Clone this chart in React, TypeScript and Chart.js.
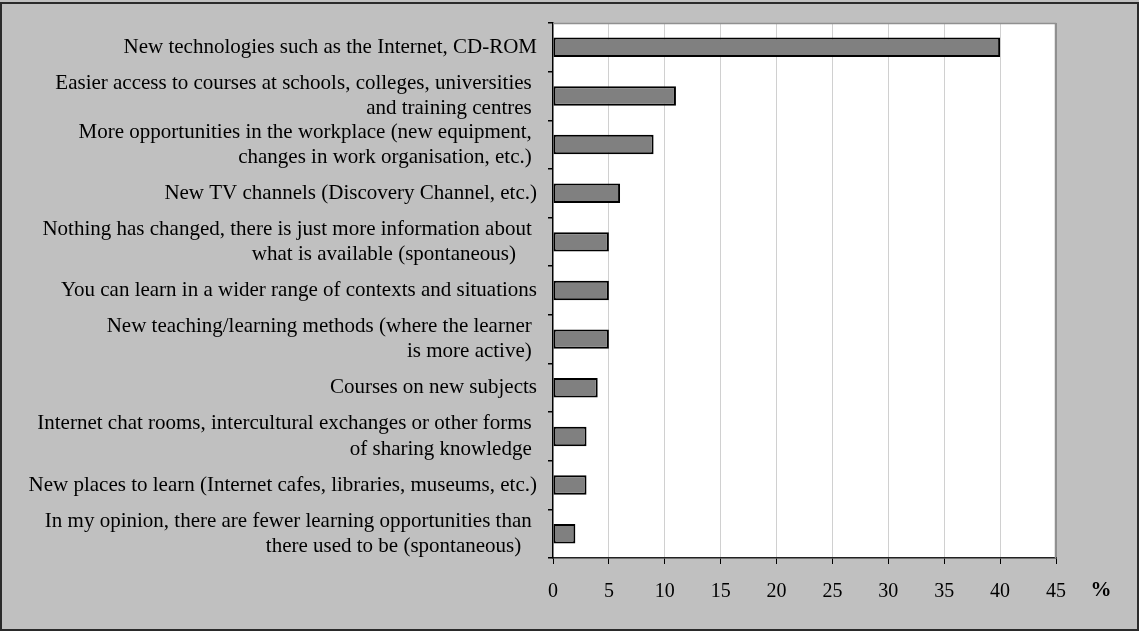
import React, { useEffect, useRef } from "react";
import { Chart, registerables } from "chart.js";

Chart.register(...registerables);

const categories: (string | string[])[] = [
  "New technologies such as the Internet, CD-ROM",
  ["Easier access to courses at schools, colleges, universities ", "and training centres "],
  ["More opportunities in the workplace (new equipment, ", "changes in work organisation, etc.) "],
  "New TV channels (Discovery Channel, etc.)",
  ["Nothing has changed, there is just more information about ", "what is available (spontaneous)    "],
  "You can learn in a wider range of contexts and situations",
  ["New teaching/learning methods (where the learner ", "is more active) "],
  "Courses on new subjects",
  ["Internet chat rooms, intercultural exchanges or other forms ", "of sharing knowledge "],
  "New places to learn (Internet cafes, libraries, museums, etc.)",
  ["In my opinion, there are fewer learning opportunities than ", "there used to be (spontaneous)   "],
];

const values: number[] = [40, 11, 9, 6, 5, 5, 5, 4, 3, 3, 2];

const xTickMin = 0;
const xTickMax = 45;
const xTickStep = 5;
const unitLabel = "%";

const FONT = "'Liberation Serif', 'Times New Roman', serif";

export default function App() {
  const ref = useRef<HTMLCanvasElement | null>(null);

  useEffect(() => {
    document.body.style.margin = "0";
    const canvas = ref.current;
    if (!canvas) return;

    const bgPlugin = {
      id: "bgPlugin",
      beforeDraw(chart: any) {
        const { ctx, chartArea } = chart;
        ctx.save();
        ctx.fillStyle = "#c0c0c0";
        ctx.fillRect(0, 0, chart.width, chart.height);
        ctx.fillStyle = "#ffffff";
        ctx.fillRect(chartArea.left, chartArea.top, chartArea.right - chartArea.left, chartArea.bottom - chartArea.top);
        ctx.strokeStyle = "#2a2a2a";
        ctx.lineWidth = 2;
        ctx.strokeRect(1, 3, chart.width - 2, chart.height - 4);
        ctx.restore();
      },
      afterDraw(chart: any) {
        const { ctx, chartArea } = chart;
        ctx.save();
        ctx.strokeStyle = "#909090";
        ctx.lineWidth = 1.5;
        ctx.beginPath();
        ctx.moveTo(chartArea.left, chartArea.top + 0.5);
        ctx.lineTo(chartArea.right - 0.5, chartArea.top + 0.5);
        ctx.lineTo(chartArea.right - 0.5, chartArea.bottom);
        ctx.stroke();
        ctx.fillStyle = "#000";
        ctx.font = `bold 21px ${FONT}`;
        ctx.textAlign = "center";
        ctx.textBaseline = "middle";
        ctx.fillText(unitLabel, 1101, 591);
        ctx.restore();
      },
    };

    const chart = new Chart(canvas, {
      type: "bar",
      data: {
        labels: categories,
        datasets: [
          {
            data: values,
            backgroundColor: "#808080",
            borderColor: "#000000",
            borderWidth: 2,
            borderSkipped: false,
            categoryPercentage: 1,
            barPercentage: 0.4,
          },
        ],
      },
      options: {
        indexAxis: "y",
        animation: false,
        responsive: false,
        devicePixelRatio: 1,
        layout: { padding: { top: 23, right: 83, bottom: 0, left: 0 } },
        plugins: { legend: { display: false }, tooltip: { enabled: false } },
        scales: {
          x: {
            min: xTickMin,
            max: xTickMax,
            ticks: {
              stepSize: xTickStep,
              color: "#000",
              font: { family: FONT, size: 20 },
              padding: 16,
            },
            grid: {
              color: (c: any) => (c.tick && c.tick.value === 0 ? "rgba(0,0,0,0)" : c.tick && c.tick.value === xTickMax ? "#909090" : "#d0d0d0"),
              tickColor: "#000",
              tickLength: 6,
              lineWidth: 1,
            },
            border: { color: "#222", width: 1.5 },
            afterFit(scale: any) {
              scale.height = 631 - 558;
              scale.paddingLeft = 0;
            },
          },
          y: {
            ticks: {
              color: "#000",
              font: { family: FONT, size: 21, lineHeight: 1.2 },
              padding: 11,
              autoSkip: false,
            },
            grid: {
              drawOnChartArea: false,
              drawTicks: true,
              tickLength: 5,
              color: "#000",
              tickColor: "#000",
              lineWidth: 1.5,
            },
            border: { color: "#000", width: 1.5 },
            afterFit(scale: any) {
              scale.width = 553;
              scale.paddingTop = 0;
              scale.paddingBottom = 0;
            },
          },
        },
      },
      plugins: [bgPlugin],
    } as any);

    return () => chart.destroy();
  }, []);

  return (
    <div style={{ position: "absolute", left: 0, top: 0, width: 1139, height: 631 }}>
      <canvas ref={ref} width={1139} height={631} style={{ display: "block" }} />
    </div>
  );
}
